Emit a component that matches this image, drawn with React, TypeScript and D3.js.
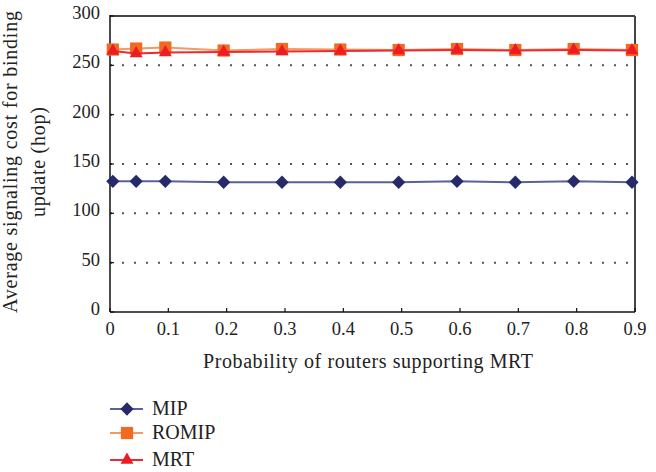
import React from "react";
import * as d3 from "d3";

// Data
const probs = [0.01, 0.05, 0.1, 0.2, 0.3, 0.4, 0.5, 0.6, 0.7, 0.8, 0.9];
const mip = [132.5, 132.5, 132.5, 131.5, 131.5, 131.5, 131.5, 132.5, 131.5, 132.5, 131.5];
const romip = [266, 267, 268, 265, 266.5, 266, 265.5, 266.5, 265.5, 266.5, 265.5];
const mrt = [264.5, 262, 263, 263.5, 264, 264.5, 265, 265.5, 265, 265.5, 265];
const xTicks = [0, 0.1, 0.2, 0.3, 0.4, 0.5, 0.6, 0.7, 0.8, 0.9];
const yTicks = [0, 50, 100, 150, 200, 250, 300];

const W = 656;
const H = 472;
const margin = { top: 16, right: 21, bottom: 160, left: 110 };
const FONT = "'Liberation Serif', 'Times New Roman', serif";

const series = [
  { name: "MIP", values: mip, line: "#5d619a", fill: "#262a6a", shape: "diamond" },
  { name: "ROMIP", values: romip, line: "#f59a62", fill: "#f26a21", shape: "square" },
  { name: "MRT", values: mrt, line: "#ec2a30", fill: "#ed1c24", shape: "triangle" },
];

const markerPath = (shape: string) => {
  if (shape === "diamond") return d3.symbol(d3.symbolSquare, 88)() as string;
  if (shape === "square") return d3.symbol(d3.symbolSquare, 150)() as string;
  return d3.symbol(d3.symbolTriangle, 72)() as string;
};

export default function App() {
  const x = d3
    .scaleLinear()
    .domain([0, 0.9])
    .range([margin.left, W - margin.right]);
  const y = d3
    .scaleLinear()
    .domain([0, 300])
    .range([H - margin.bottom, margin.top]);

  const line = d3
    .line<number>()
    .x((_, i) => x(probs[i]))
    .y((d) => y(d));

  const x0 = x(0);
  const x1 = x(0.9);
  const y0 = y(0);
  const y1 = y(300);

  return (
    <svg
      width={W}
      height={H}
      style={{ position: "absolute", left: 0, top: 0, background: "#fff" }}
      fontFamily={FONT}
    >
      {/* dotted gridlines */}
      {yTicks
        .filter((t) => t > 0 && t < 300)
        .map((t) => (
          <line
            key={t}
            x1={x0}
            x2={x1 - 4}
            y1={y(t)}
            y2={y(t)}
            stroke="#555"
            strokeWidth={2}
            strokeDasharray="2 10"
          />
        ))}

      {/* frame */}
      <line x1={x0} x2={x1} y1={y1} y2={y1} stroke="#444" strokeWidth={2} />
      <line x1={x1} x2={x1} y1={y1} y2={y0} stroke="#444" strokeWidth={2} />
      <line x1={x0} x2={x0} y1={y1 - 1} y2={y0} stroke="#111" strokeWidth={1.5} />
      <line x1={x0} x2={x1} y1={y0} y2={y0} stroke="#111" strokeWidth={1.5} />

      {/* y ticks */}
      {yTicks.map((t) => (
        <g key={t}>
          <line x1={x0} x2={x0 + 4} y1={y(t)} y2={y(t)} stroke="#111" strokeWidth={1.2} />
          <text x={x0 - 10} y={y(t) + 3} textAnchor="end" fontSize={18.5} fill="#222">
            {t}
          </text>
        </g>
      ))}

      {/* x ticks */}
      {xTicks.map((t) => (
        <g key={t}>
          <line x1={x(t)} x2={x(t)} y1={y0} y2={y0 - 4} stroke="#111" strokeWidth={1.2} />
          <text x={x(t)} y={y0 + 23} textAnchor="middle" fontSize={18.5} fill="#222">
            {t === 0 ? "0" : t.toFixed(1)}
          </text>
        </g>
      ))}

      {/* series */}
      <g transform="translate(-3,0)">
        {series.map((s) => (
          <g key={s.name}>
            <path d={line(s.values) as string} fill="none" stroke={s.line} strokeWidth={2} />
            {s.values.map((v, i) => (
              <path
                key={i}
                d={markerPath(s.shape)}
                transform={`translate(${x(probs[i])},${y(v)})${s.shape === "diamond" ? " rotate(45)" : ""}`}
                fill={s.fill}
              />
            ))}
          </g>
        ))}
      </g>

      {/* axis titles */}
      <text
        x={368}
        y={368}
        textAnchor="middle"
        fontSize={20}
        fill="#222"
        textLength={330}
        lengthAdjust="spacing"
      >
        Probability of routers supporting MRT
      </text>
      <g transform={`translate(0,${(y0 + y1) / 2 - 2}) rotate(-90)`}>
        <text
          x={0}
          y={17}
          textAnchor="middle"
          fontSize={20}
          fill="#222"
          textLength={302}
          lengthAdjust="spacing"
        >
          Average signaling cost for binding
        </text>
        <text
          x={0}
          y={45}
          textAnchor="middle"
          fontSize={20}
          fill="#222"
          textLength={110}
          lengthAdjust="spacing"
        >
          update (hop)
        </text>
      </g>

      {/* legend */}
      {series.map((s, i) => {
        const ly = [409, 433, 460][i];
        return (
          <g key={s.name}>
            <line x1={110} x2={143} y1={ly} y2={ly} stroke={s.line} strokeWidth={2} />
            <path
              d={markerPath(s.shape)}
              transform={`translate(127,${ly})${s.shape === "diamond" ? " rotate(45)" : ""}`}
              fill={s.fill}
            />
            <text x={152} y={ly + 6} fontSize={20} fill="#222">
              {s.name}
            </text>
          </g>
        );
      })}
    </svg>
  );
}
